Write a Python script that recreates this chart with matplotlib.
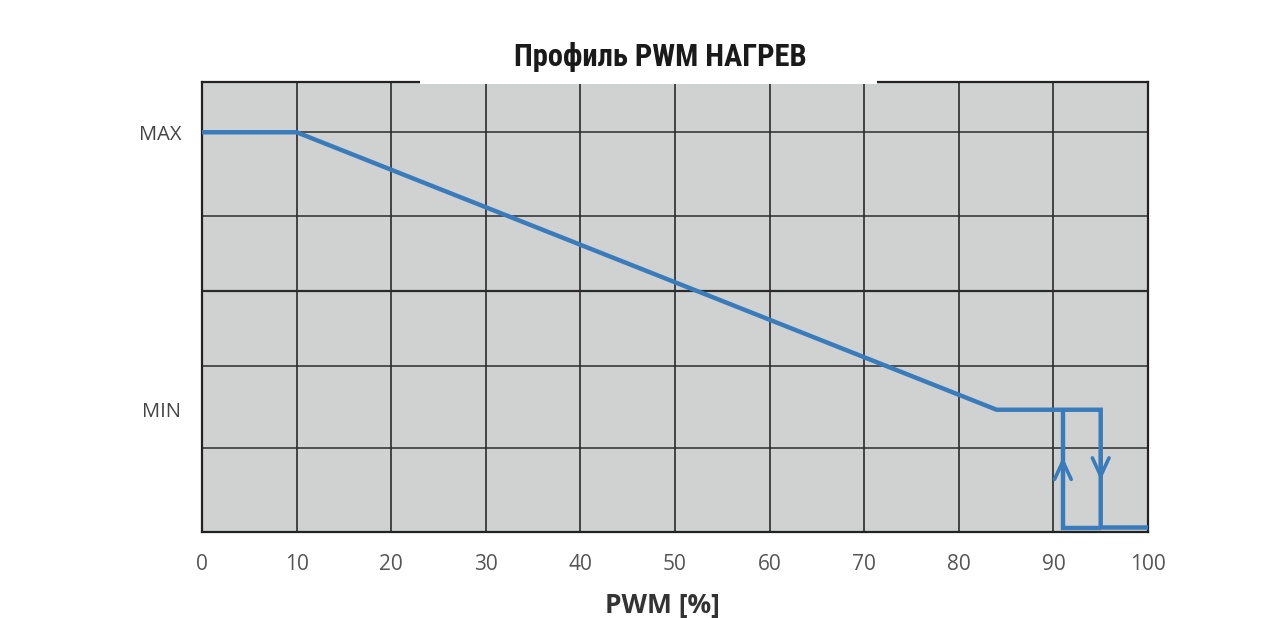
import matplotlib
matplotlib.use("Agg")
import matplotlib.pyplot as plt
from matplotlib.patches import Rectangle
from matplotlib import font_manager

# ---- data ----
x_ticks = [0, 10, 20, 30, 40, 50, 60, 70, 80, 90, 100]
y_grid = [1.12, 2.21, 3.21, 4.21, 5.33]
y_max = 5.33
y_min = 1.63
y_low = 0.06
y_labels = ["MAX", "MIN"]

# main profile (heating PWM)
profile_x = [0, 10, 84, 95, 95, 100]
profile_y = [y_max, y_max, y_min, y_min, y_low, y_low]
# hysteresis return branch
hyst_x = [91, 91, 95]
hyst_y = [y_min, y_low, y_low]

title = "Профиль PWM НАГРЕВ"
xlabel = "PWM [%]"

names = {f.name for f in font_manager.fontManager.ttflist}
cands = ["Roboto Condensed", "Liberation Sans Narrow", "Open Sans Condensed",
         "DejaVu Sans Condensed", "Roboto"]
title_fams = [c for c in cands if c in names] + ["DejaVu Sans"]
condensed = title_fams[0] in ("Roboto Condensed", "Liberation Sans Narrow",
                              "Open Sans Condensed")
title_size = 22 if condensed else 18.5
body_font = "Open Sans"

W, H = 1277, 618
fig = plt.figure(figsize=(W / 100, H / 100), dpi=100)
fig.patch.set_facecolor("white")
ax = fig.add_axes([202 / W, 1 - 532 / H, (1148 - 202) / W, (532 - 82) / H])
ax.set_facecolor("#d0d2d2")
ax.set_xlim(0, 100)
ax.set_ylim(0, 6)

grid_c = "#2b2b2b"
for xv in x_ticks[1:-1]:
    ax.axvline(xv, color=grid_c, lw=1.2, zorder=1)
for i, yv in enumerate(y_grid):
    ax.axhline(yv, color=grid_c, lw=1.6 if i == 2 else 1.1, zorder=1)

for s in ax.spines.values():
    s.set_color("#222222")
    s.set_linewidth(1.6)

line_c = "#3a7cbb"
ax.plot(profile_x, profile_y, color=line_c, lw=3.2, solid_joinstyle="miter",
        solid_capstyle="butt", zorder=3, clip_on=False)
ax.plot(hyst_x, hyst_y, color=line_c, lw=3.2, solid_joinstyle="miter",
        solid_capstyle="butt", zorder=3, clip_on=False)

# chevron arrows
ax.annotate("", xy=(91, 1.00), xytext=(91, 0.60),
            arrowprops=dict(arrowstyle="->,head_length=1.3,head_width=0.6",
                            color=line_c, lw=2.6, shrinkA=0, shrinkB=0), zorder=4)
ax.annotate("", xy=(95, 0.69), xytext=(95, 1.09),
            arrowprops=dict(arrowstyle="->,head_length=1.3,head_width=0.6",
                            color=line_c, lw=2.6, shrinkA=0, shrinkB=0), zorder=4)

ax.set_xticks(x_ticks)
ax.set_xticklabels([str(v) for v in x_ticks], fontsize=15, color="#555555",
                   family=body_font)
ax.tick_params(axis="x", length=0, pad=16)
ax.set_yticks([y_max, y_min])
ax.set_yticklabels(y_labels, fontsize=14.5, color="#444444", family=body_font)
ax.tick_params(axis="y", length=0, pad=15)

# white title box covering the top spine
fig.patches.append(Rectangle((420 / W, 1 - 84 / H), (877 - 420) / W, 84 / H,
                             transform=fig.transFigure, facecolor="white",
                             edgecolor="none", zorder=5))
fig.text(660 / W, 1 - 57 / H, title, ha="center", va="center", fontsize=title_size,
         fontweight="bold", color="#1a1a1a", family=title_fams,
         zorder=6)

fig.text(662 / W, 1 - 592 / H, xlabel, ha="center", va="top", fontsize=19,
         fontweight="bold", color="#333333", family=body_font)

fig.savefig("out.png", dpi=100)
